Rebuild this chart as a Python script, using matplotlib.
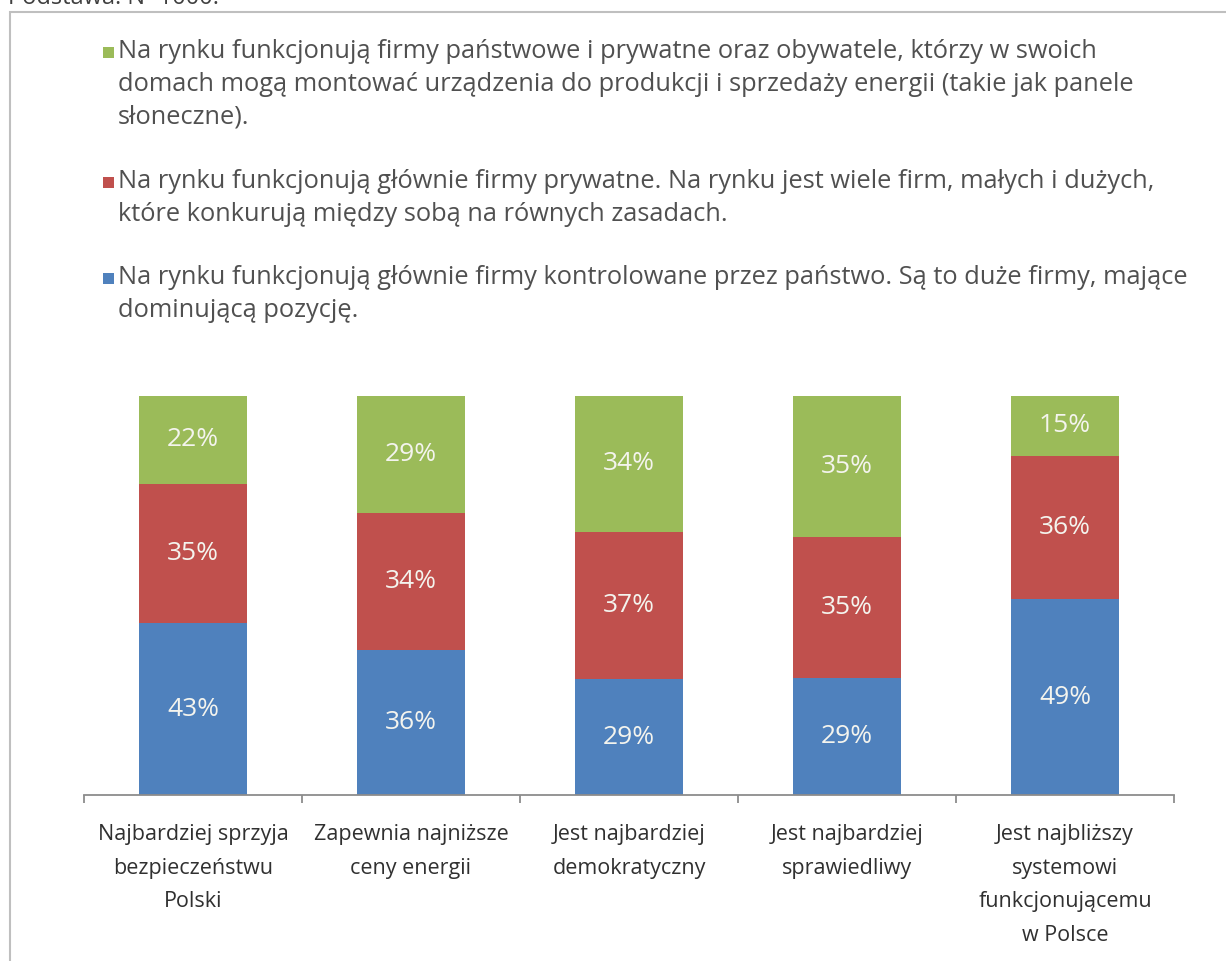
import matplotlib
matplotlib.use("Agg")
import matplotlib.pyplot as plt
import numpy as np
from matplotlib.patches import Rectangle

plt.rcParams['font.family'] = ['Open Sans', 'DejaVu Sans']

# ----------------------------
# Data
# ----------------------------
categories = [
    "Najbardziej sprzyja\nbezpieczeństwu\nPolski",
    "Zapewnia najniższe\nceny energii",
    "Jest najbardziej\ndemokratyczny",
    "Jest najbardziej\nsprawiedliwy",
    "Jest najbliższy\nsystemowi\nfunkcjonującemu\nw Polsce",
]
state_firms = [43, 36, 29, 29, 49]      # blue
private_firms = [35, 34, 37, 35, 36]    # red
mixed_market = [22, 29, 34, 35, 15]     # green

legend_labels = [
    "Na rynku funkcjonują firmy państwowe i prywatne oraz obywatele, którzy w swoich\n"
    "domach mogą montować urządzenia do produkcji i sprzedaży energii (takie jak panele\n"
    "słoneczne).",
    "Na rynku funkcjonują głównie firmy prywatne. Na rynku jest wiele firm, małych i dużych,\n"
    "które konkurują między sobą na równych zasadach.",
    "Na rynku funkcjonują głównie firmy kontrolowane przez państwo. Są to duże firmy, mające\n"
    "dominującą pozycję.",
]

BLUE = '#4F81BD'
RED = '#C0504D'
GREEN = '#9BBB59'

# ----------------------------
# Figure
# ----------------------------
fig = plt.figure(figsize=(12.26, 9.61), dpi=100)
W, H = 1226, 961

# outer frame and cut-off header
fig.patches.append(Rectangle((10 / W, -0.1), 1.2, 1 - 12 / H + 0.1,
                             transform=fig.transFigure, fill=False,
                             edgecolor='#bfbfbf', linewidth=1.5))
fig.text(8 / W, 1 - 4 / H, "Podstawa: N=1000.", fontsize=17,
         color='#404040', va='baseline', ha='left')

ax = fig.add_axes([84 / W, 166 / H, 1090 / W, 399 / H])

series = [state_firms, private_firms, mixed_market]
colors_ = [BLUE, RED, GREEN]
vals = np.array(series, dtype=float)
shares = vals / vals.sum(axis=0)  # 100% stacked
x = np.arange(len(categories))
bottom = np.zeros(len(categories))
for raw, share, col in zip(vals, shares, colors_):
    bars = ax.bar(x, share, 0.495, bottom=bottom, color=col, linewidth=0)
    ax.bar_label(bars, labels=[f"{int(v)}%" for v in raw], label_type='center',
                 color='#f4f4ee', fontsize=19)
    bottom += share

ax.set_xlim(-0.5, len(categories) - 0.5)
ax.set_ylim(0, 1)
for s in ['top', 'right', 'left']:
    ax.spines[s].set_visible(False)
ax.spines['bottom'].set_color('#8c8c8c')
ax.spines['bottom'].set_linewidth(1.3)
ax.set_yticks([])
ax.set_xticks(x)
ax.set_xticklabels(categories, fontsize=15.5, color='#303030', linespacing=1.78)
ax.tick_params(axis='x', which='major', length=0, pad=21)
ax.set_xticks(np.arange(-0.5, len(categories), 1), minor=True)
ax.tick_params(axis='x', which='minor', length=6, color='#8c8c8c', width=1.3)

# ----------------------------
# Legend (marker next to first line of each entry)
# ----------------------------
legend_centers = [52, 182, 278]
legend_colors = [GREEN, RED, BLUE]
for y, lab, col in zip(legend_centers, legend_labels, legend_colors):
    fig.patches.append(Rectangle((103 / W, 1 - (y + 5.5) / H), 11 / W, 11 / H,
                                 transform=fig.transFigure, facecolor=col,
                                 edgecolor='none'))
    fig.text(118 / W, 1 - (y - 13) / H, lab, fontsize=18.3, color='#505050',
             va='top', ha='left', linespacing=1.4)

fig.savefig('out.png', dpi=100, facecolor='white')
